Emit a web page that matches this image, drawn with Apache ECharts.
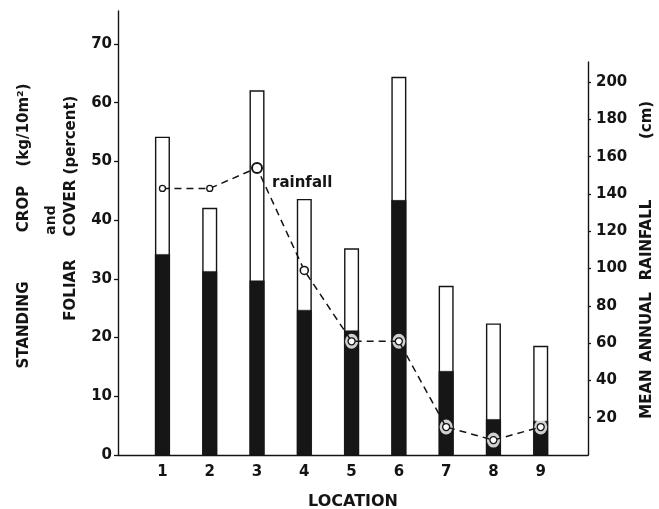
<!DOCTYPE html>
<html><head><meta charset="utf-8">
<script src="https://cdn.jsdelivr.net/npm/echarts@6/dist/echarts.min.js"></script>
<style>html,body{margin:0;padding:0;background:#fff;}#c{width:659px;height:509px;}</style>
</head><body><div id="c"></div>
<script>
const locations = [1, 2, 3, 4, 5, 6, 7, 8, 9];
const foliarCover = [54.2, 42.1, 62.1, 43.6, 35.2, 64.4, 28.8, 22.4, 18.6];
const standingCrop = [34.2, 31.3, 29.7, 24.7, 21.2, 43.4, 14.3, 6.1, 5.8];
const rainfall = [143, 143, 154, 99, 61, 61, 15, 8, 15];
const leftTicks = [0, 10, 20, 30, 40, 50, 60, 70];
const rightTicks = [20, 40, 60, 80, 100, 120, 140, 160, 180, 200];

const F = 'DejaVu Sans';
const INK = '#141414';
const chart = echarts.init(document.getElementById('c'), null, {renderer: 'canvas'});

const pairs = arr => arr.map((v, i) => [locations[i], v]);
const haloIdx = [4, 5, 6, 7, 8];

const lineData = rainfall.map((v, i) => {
  const d = {value: [locations[i], v]};
  if (i === 2) {
    d.symbolSize = 10;
    d.itemStyle = {borderWidth: 2};
    d.label = {show: true, formatter: 'rainfall', position: 'right', offset: [4, 15],
      fontFamily: F, fontWeight: 'bold', fontSize: 15, color: INK};
  } else if (i === 3) {
    d.symbolSize = 8;
    d.itemStyle = {borderWidth: 1.6};
  } else if (i < 2) {
    d.symbolSize = 6;
  }
  return d;
});

const vText = (x, y, text, size) => ({
  type: 'text', x: x, y: y, rotation: Math.PI / 2,
  style: {text: text, fontFamily: F, fontWeight: 'bold', fontSize: size || 14,
    fill: INK, align: 'center', verticalAlign: 'middle'}
});

chart.setOption({
  backgroundColor: '#fff',
  animation: false,
  grid: [
    {left: 118, right: 71, top: 11, bottom: 54, outerBoundsMode: 'none', containLabel: false},
    {left: 118, right: 71, top: 62, bottom: 54, outerBoundsMode: 'none', containLabel: false}
  ],
  xAxis: [
    {type: 'value', gridIndex: 0, min: 0.06, max: 10,
     axisLine: {show: true, lineStyle: {color: INK, width: 1.4}},
     axisTick: {show: false}, splitLine: {show: false},
     axisLabel: {customValues: locations, fontFamily: F, fontWeight: 'bold', fontSize: 15,
       color: INK, margin: 10},
     name: 'LOCATION', nameLocation: 'middle', nameGap: 39,
     nameTextStyle: {fontFamily: F, fontWeight: 'bold', fontSize: 16, color: INK}},
    {type: 'value', gridIndex: 1, min: 0.06, max: 10, show: false}
  ],
  yAxis: [
    {type: 'value', gridIndex: 0, min: 0, max: 75.6, position: 'left',
     axisLine: {show: true, lineStyle: {color: INK, width: 1.4}},
     axisTick: {show: true, customValues: leftTicks, length: 4, lineStyle: {color: INK, width: 1.3}},
     axisLabel: {customValues: leftTicks, fontFamily: F, fontWeight: 'bold', fontSize: 15,
       color: INK, margin: 6},
     splitLine: {show: false}},
    {type: 'value', gridIndex: 1, min: 0, max: 210.8, position: 'right',
     axisLine: {show: true, lineStyle: {color: INK, width: 1.4}},
     axisTick: {show: true, customValues: rightTicks, length: 3, lineStyle: {color: INK, width: 1.3}},
     axisLabel: {customValues: rightTicks, fontFamily: F, fontWeight: 'bold', fontSize: 15,
       color: INK, margin: 8},
     splitLine: {show: false}}
  ],
  series: [
    {type: 'bar', xAxisIndex: 0, yAxisIndex: 0, barWidth: 15, data: pairs(foliarCover),
     itemStyle: {color: '#fff', borderColor: INK, borderWidth: 1.4}, z: 2},
    {type: 'bar', xAxisIndex: 0, yAxisIndex: 0, barWidth: 15, barGap: '-100%', data: pairs(standingCrop),
     itemStyle: {color: '#161616', borderColor: '#161616', borderWidth: 0.5}, z: 3},
    {type: 'scatter', xAxisIndex: 1, yAxisIndex: 1, symbol: 'circle', symbolSize: [13, 15],
     data: haloIdx.map(i => [locations[i], rainfall[i]]),
     itemStyle: {color: '#fff'}, z: 4, silent: true},
    {type: 'line', xAxisIndex: 1, yAxisIndex: 1, data: lineData, z: 5,
     symbol: 'circle', symbolSize: 7, showAllSymbol: true,
     lineStyle: {color: INK, width: 1.5, type: [7, 5]},
     itemStyle: {color: '#fff', borderColor: INK, borderWidth: 1.3}}
  ],
  graphic: [
    vText(24, 325, 'STANDING', 15),
    vText(24, 209, 'CROP', 15),
    vText(24, 125, '(kg/10m²)', 15),
    vText(51, 220, 'and', 14),
    vText(71, 290, 'FOLIAR', 15),
    vText(71, 208, 'COVER', 15),
    vText(71, 135, '(percent)', 15),
    vText(647, 394, 'MEAN', 15),
    vText(647, 327, 'ANNUAL', 15),
    vText(647, 240, 'RAINFALL', 15),
    vText(647, 120, '(cm)', 15)
  ]
});
</script></body></html>
